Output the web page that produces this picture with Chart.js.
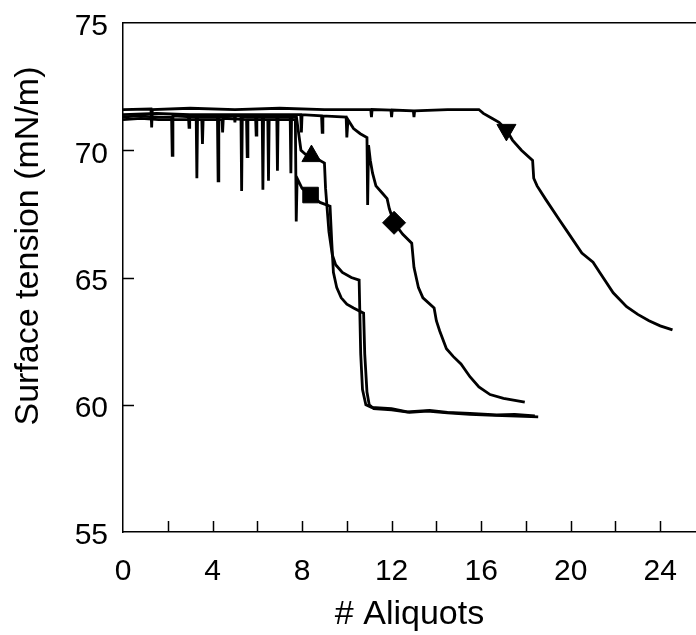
<!DOCTYPE html>
<html lang="en">
<head>
<meta charset="UTF-8" />
<title>Surface tension vs aliquots</title>
<script src="https://cdn.jsdelivr.net/npm/chart.js@4.4.1/dist/chart.umd.min.js"></script>
<style>
  html, body { margin: 0; padding: 0; background: #fff; overflow: hidden; }
</style>
</head>
<body>
<canvas id="tension" width="696" height="635"></canvas>
<script>
// axis labels / ticks
const xTitle = "# Aliquots";
const yTitle = "Surface tension (mN/m)";
const xTickMarks = [2, 4, 6, 8, 10, 12, 14, 16, 18, 20, 22, 24];
const yTickMarks = [60, 65, 70];

// curve with the up-triangle marker
const xTri = [0, 0.6, 1.6, 2.17, 2.2, 2.23, 3.27, 3.3, 3.33, 4.22, 4.25, 4.28, 5.27, 5.3, 5.33, 6.22, 6.25, 6.28, 7.47, 7.5, 7.53, 7.75, 7.95, 8.2, 8.42, 8.7, 9.0, 9.05, 9.2, 9.35, 9.5, 9.8, 10.2, 10.55, 10.62, 10.7, 10.85, 11.1, 12.0, 12.7, 13.7, 14.5, 15.5, 16.7, 17.5, 18.4];
const yTri = [71.3, 71.35, 71.3, 71.3, 69.8, 71.35, 71.3, 68.9, 71.3, 71.3, 68.8, 71.3, 71.35, 68.4, 71.3, 71.3, 68.45, 71.3, 71.3, 69.1, 71.3, 71.3, 70.0, 69.8, 69.75, 69.65, 69.5, 68.5, 66.8, 65.9, 65.5, 65.2, 65.0, 64.9, 62.0, 60.6, 60.0, 59.9, 59.85, 59.72, 59.78, 59.7, 59.66, 59.6, 59.62, 59.56];

// curve with the square marker
const xSq = [0, 0.8, 1.6, 3.52, 3.55, 3.58, 4.42, 4.45, 4.48, 5.52, 5.55, 5.58, 6.47, 6.5, 6.53, 7.7, 7.74, 7.78, 8.0, 8.38, 8.8, 9.25, 9.32, 9.4, 9.55, 9.75, 10.0, 10.3, 10.75, 10.8, 10.9, 11.0, 11.2, 12.0, 12.8, 13.6, 14.5, 15.5, 16.6, 17.6, 18.55];
const ySq = [71.2, 71.25, 71.2, 71.2, 70.25, 71.2, 71.2, 70.7, 71.25, 71.2, 69.75, 71.2, 71.2, 68.8, 71.2, 71.2, 67.2, 68.9, 68.5, 68.24, 67.95, 67.8, 66.5, 65.2, 64.6, 64.2, 63.95, 63.8, 63.6, 62.0, 60.5, 60.0, 59.85, 59.8, 59.7, 59.75, 59.68, 59.62, 59.58, 59.55, 59.52];

// curve with the diamond marker
const xDia = [0, 1.5, 2.92, 2.95, 2.98, 4.97, 5.0, 5.03, 5.92, 5.95, 5.98, 6.87, 6.9, 6.93, 7.94, 7.97, 8.0, 8.87, 8.9, 8.93, 9.97, 10.0, 10.05, 10.3, 10.6, 10.9, 10.93, 10.97, 11.05, 11.15, 11.3, 11.6, 11.8, 11.9, 12.11, 12.5, 12.9, 13.0, 13.2, 13.4, 13.9, 14.0, 14.15, 14.45, 14.75, 15.1, 15.5, 15.9, 16.4, 17.0, 17.95];
const yDia = [71.4, 71.45, 71.4, 70.9, 71.4, 71.4, 71.1, 71.4, 71.4, 70.6, 71.4, 71.4, 69.2, 71.4, 71.4, 70.7, 71.4, 71.35, 70.7, 71.35, 71.3, 70.5, 71.2, 70.85, 70.65, 70.5, 67.85, 70.2, 69.6, 69.1, 68.6, 68.3, 68.1, 67.7, 67.15, 66.7, 66.35, 65.4, 64.6, 64.2, 63.8, 63.3, 62.9, 62.2, 61.9, 61.6, 61.1, 60.7, 60.4, 60.25, 60.1];

// curve with the down-triangle marker
const xInv = [0, 1.25, 1.28, 1.31, 3, 5, 7, 9, 11.07, 11.1, 11.13, 11.97, 12.0, 12.03, 12.97, 13.0, 13.03, 14.5, 15.9, 16.1, 16.5, 16.8, 17.13, 17.4, 17.8, 18.3, 18.35, 18.5, 18.9, 19.5, 19.8, 20.5, 21.0, 21.3, 21.9, 22.5, 23.0, 23.5, 24.0, 24.55];
const yInv = [71.6, 71.62, 70.9, 71.6, 71.65, 71.6, 71.65, 71.6, 71.6, 71.3, 71.6, 71.58, 71.3, 71.58, 71.55, 71.3, 71.55, 71.6, 71.6, 71.45, 71.25, 71.1, 70.8, 70.4, 70.0, 69.6, 68.9, 68.6, 68.05, 67.26, 66.87, 65.96, 65.6, 65.2, 64.4, 63.85, 63.55, 63.3, 63.1, 62.94];

// marker positions
const triMark = [8.42, 69.77];
const sqMark = [8.38, 68.24];
const diaMark = [12.11, 67.15];
const invMark = [17.13, 70.8];

const pts = (xs, ys) => xs.map((x, i) => ({ x, y: ys[i] }));

const curve = (xs, ys) => ({
	data: pts(xs, ys),
	showLine: true,
	borderColor: "#000",
	borderWidth: 2.8,
	pointRadius: 0,
	tension: 0,
});

const marker = (m, style, r, rot) => ({
	data: [{ x: m[0], y: m[1] }],
	pointStyle: style,
	pointRadius: r,
	pointRotation: rot,
	backgroundColor: "#000",
	borderColor: "#000",
	borderWidth: 1,
});

Chart.defaults.font.family = "'Liberation Sans', Arial, sans-serif";
Chart.defaults.color = "#000";

// no extra room for half-labels at the ends of the axes
const noEdgePad = (s) => {
	s.paddingTop = 0;
	s.paddingBottom = 0;
	s.paddingLeft = 0;
	s.paddingRight = 0;
};

// tick marks point inwards, and the y title sits a bit above centre
const frame = {
	id: "frame",
	afterDraw(chart) {
		const { ctx, chartArea, scales } = chart;
		ctx.save();
		ctx.strokeStyle = "#000";
		ctx.lineWidth = 1.5;
		ctx.beginPath();
		xTickMarks.forEach((v) => {
			const px = Math.round(scales.x.getPixelForValue(v)) + 0.5;
			ctx.moveTo(px, chartArea.bottom);
			ctx.lineTo(px, chartArea.bottom - 11);
		});
		yTickMarks.forEach((v) => {
			const py = Math.round(scales.y.getPixelForValue(v)) + 0.5;
			ctx.moveTo(chartArea.left, py);
			ctx.lineTo(chartArea.left + 11, py);
		});
		ctx.stroke();

		ctx.translate(29, 246);
		ctx.rotate(-Math.PI / 2);
		ctx.font = "34px 'Liberation Sans', Arial, sans-serif";
		ctx.fillStyle = "#000";
		ctx.textAlign = "center";
		ctx.textBaseline = "middle";
		ctx.fillText(yTitle, 0, 0);
		ctx.restore();
	},
};

new Chart(document.getElementById("tension"), {
	type: "scatter",
	data: {
		datasets: [
			curve(xTri, yTri),
			curve(xSq, ySq),
			curve(xDia, yDia),
			curve(xInv, yInv),
			marker(triMark, "triangle", 11, 0),
			marker(sqMark, "rect", 11, 0),
			marker(diaMark, "rectRot", 11.5, 0),
			marker(invMark, "triangle", 11, 180),
		],
	},
	options: {
		responsive: false,
		animation: false,
		layout: { padding: 0, autoPadding: false },
		plugins: {
			legend: { display: false },
			tooltip: { enabled: false },
		},
		scales: {
			x: {
				type: "linear",
				position: "bottom",
				min: 0,
				max: 25.6,
				grid: { display: false, drawTicks: false },
				border: { display: true, color: "#000", width: 1.5 },
				ticks: { stepSize: 4, includeBounds: false, padding: 22, font: { size: 30 } },
				title: { display: true, text: xTitle, font: { size: 34 }, padding: { top: 0, bottom: 0 } },
				afterFit: (s) => { s.height = 103; noEdgePad(s); },
			},
			x2: {
				type: "linear",
				axis: "x",
				position: "top",
				min: 0,
				max: 25.6,
				grid: { display: false, drawTicks: false },
				border: { display: true, color: "#000", width: 1.5 },
				ticks: { display: false },
				afterFit: (s) => { s.height = 23; noEdgePad(s); },
			},
			y: {
				min: 55,
				max: 75,
				grid: { display: false, drawTicks: false },
				border: { display: true, color: "#000", width: 1.5 },
				ticks: { stepSize: 5, padding: 15, labelOffset: 4, font: { size: 30 } },
				afterFit: (s) => { s.width = 123; noEdgePad(s); },
			},
		},
	},
	plugins: [frame],
});
</script>
</body>
</html>
